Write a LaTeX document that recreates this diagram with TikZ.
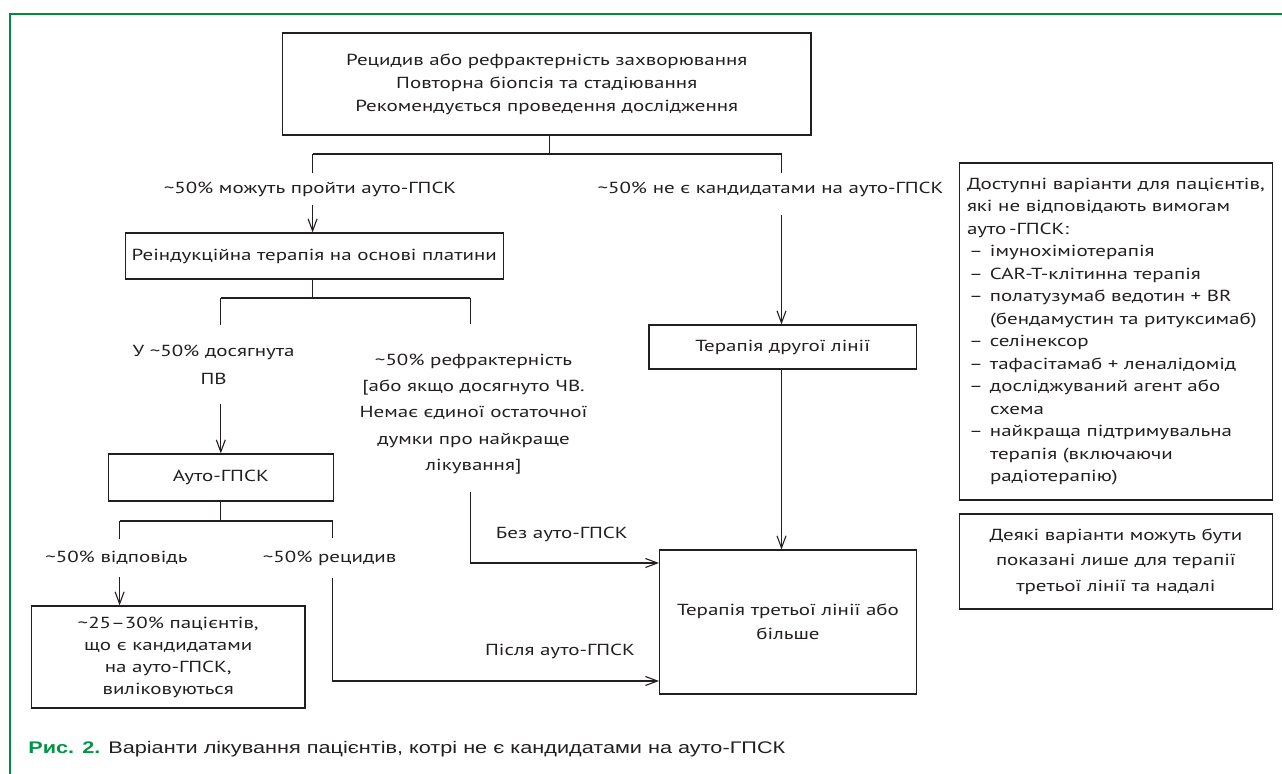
\documentclass[tikz,border=0pt]{standalone}
\usepackage{fontspec}
\setmainfont{PT Sans}[FakeStretch=1.31]
\newfontfamily\capfont{Liberation Sans}[FakeStretch=1.29]
\usepackage{xcolor}
\usetikzlibrary{arrows.meta,positioning}
\definecolor{figgreen}{RGB}{0,150,70}
\definecolor{framegreen}{RGB}{0,140,60}
\definecolor{ink}{RGB}{35,31,32}
\newcommand{\fs}{\fontsize{8}{11.5}\selectfont}
\newcommand{\apx}{\textasciitilde}
\newcommand{\itm}{\makebox[11.5pt][l]{\hspace*{1pt}–}}
\newcommand{\cnt}{\hspace*{11.5pt}}
\tikzset{blk/.style={draw=ink,line width=0.6pt,align=center,inner sep=2pt,font=\fs},
  lbl/.style={align=center,inner xsep=1pt,inner ysep=4.2pt,font=\fs},
  link/.style={draw=ink,line width=0.55pt}}

\begin{document}
\begin{tikzpicture}[x=0.5pt,y=-0.5pt,>={Straight Barb[length=6pt,width=4.5pt]},text=ink]
    \useasboundingbox (0,0) rectangle (1282,774);
    \draw[framegreen,line width=1.1pt] (10,774) -- (10,14) -- (1282,14);

    \node[blk,minimum width=264.3pt,minimum height=51pt] (relapse) at (546.7,84) {Рецидив або рефрактерність захворювання\\Повторна біопсія та стадіювання\\Рекомендується проведення дослідження};
    \node[blk,minimum width=189pt,minimum height=23pt] (reind) at (314.3,256) {Реіндукційна терапія на основі платини};
    \node[blk,minimum width=112.7pt,minimum height=23.5pt] (auto) at (220.8,477.5) {Ауто-ГПСК};
    \node[blk,minimum width=136.7pt,minimum height=51pt,font=\fontsize{8}{11}\selectfont] (cured) at (168.2,657) {\apx25–30\% пацієнтів,\\що є кандидатами\\на ауто-ГПСК,\\виліковуються};
    \node[blk,minimum width=133.7pt,minimum height=22pt] (second) at (782.7,347) {Терапія другої лінії};
    \node[blk,minimum width=128.4pt,minimum height=72pt,font=\fontsize{8}{12}\selectfont] (third) at (788,622) {Терапія третьої лінії або\\більше};
    \node[blk,align=left,minimum width=156.6pt,minimum height=168.5pt,font=\fontsize{8}{11.25}\selectfont] (opts) at (1115.9,331.5) {Доступні варіанти для пацієнтів,\\які не відповідають вимогам\\ауто\,-ГПСК:\\\itm імунохіміотерапія\\\itm CAR-T-клітинна терапія\\\itm полатузумаб ведотин + BR\\\cnt(бендамустин та ритуксимаб)\\\itm селінексор\\\itm тафасітамаб + леналідомід\\\itm досліджуваний агент або\\\cnt схема\\\itm найкраща підтримувальна\\\cnt терапія (включаючи\\\cnt радіотерапію)};
    \node[blk,minimum width=156.6pt,minimum height=47.5pt,font=\fontsize{8}{12.75}\selectfont] (later) at (1115.9,561.5) {Деякі варіанти можуть бути\\показані лише для терапії\\третьої лінії та надалі};

    \node[lbl] (yes) at (310,189) {\apx50\% можуть пройти ауто-ГПСК};
    \node[lbl] (no) at (770.5,189) {\apx50\% не є кандидатами на ауто-ГПСК};
    \node[lbl,inner ysep=9.5pt,font=\fontsize{8}{14}\selectfont] (pv) at (213.6,364.5) {У \apx50\% досягнута\\ПВ};
    \node[lbl,font=\fontsize{8}{13.1}\selectfont] (refr) at (473.5,414) {\apx50\% рефрактерність\\{[}або якщо досягнуто ЧВ.\\Немає єдиної остаточної\\думки про найкраще\\лікування{]}};
    \node[lbl,inner ysep=6pt] (resp) at (116.4,558) {\apx50\% відповідь};
    \node[lbl,inner ysep=6pt] (rel) at (329.6,558) {\apx50\% рецидив};
    \node[lbl] (noauto) at (561.8,534) {Без ауто-ГПСК};
    \node[lbl] (afterauto) at (560,651) {Після ауто-ГПСК};

    \coordinate (jtop) at (549.3,154);
    \coordinate (jl) at (312.6,154);
    \coordinate (jr) at (781.5,154);
    \coordinate (kl) at (220.8,298);
    \coordinate (kr) at (470.2,298);
    \coordinate (rfIn) at (470.2,324);
    \coordinate (rfOut) at (470.2,492);
    \coordinate (rfBend) at (470.2,563);
    \coordinate (ml) at (119.6,521);
    \coordinate (mr) at (332.7,521);
    \coordinate (relBend) at (332.7,681);

    \draw [link] (relapse.south -| jtop) to (jtop);
    \draw [link] (jl) to (jr);
    \draw [link] (jl) to (jl |- yes.north);
    \draw [link,->] (jl |- yes.south) to (reind.north -| jl);
    \draw [link] (jr) to (jr |- no.north);
    \draw [link,->] ([yshift=-5pt]jr |- no.south) to (second.north -| jr);
    \draw [link,->] (second.south -| jr) to (third.north -| jr);

    \draw [link] (reind.south -| jl) to (jl |- kl);
    \draw [link] (kl) to (kr);
    \draw [link] (kl) to (kl |- pv.north);
    \draw [link,->] (kl |- pv.south) to (auto.north);
    \draw [link] (kr) to (rfIn);
    \draw [link,->] (rfOut) -- (rfBend) -- (third.west |- rfBend);

    \draw [link] (auto.south) to (auto.south |- ml);
    \draw [link] (ml) to (mr);
    \draw [link] (ml) to (ml |- resp.north);
    \draw [link,->] (ml |- resp.south) to (cured.north -| ml);
    \draw [link] (mr) to (mr |- rel.north);
    \draw [link,->] (mr |- rel.south) -- (relBend) -- (third.west |- relBend);

    \node[anchor=base west,inner sep=0pt,font=\capfont\fontsize{8.4}{11}\selectfont] (caption) at (28,754) {\textcolor{figgreen}{\bfseries Рис. 2.} Варіанти лікування пацієнтів, котрі не є кандидатами на ауто-ГПСК};
\end{tikzpicture}
\end{document}
